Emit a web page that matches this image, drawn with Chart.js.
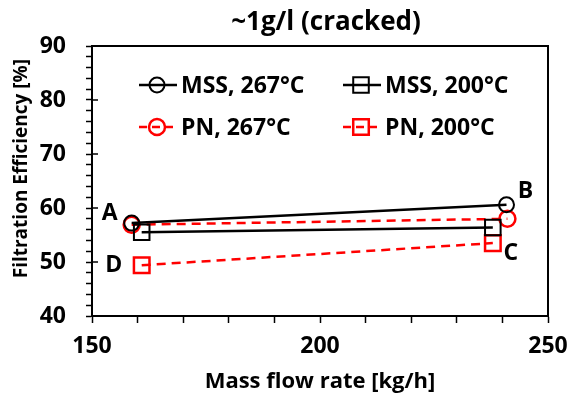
<!DOCTYPE html>
<html lang="en">
<head>
  <meta charset="UTF-8" />
  <title>Filtration efficiency vs mass flow</title>
  <script src="https://cdn.jsdelivr.net/npm/chart.js@4.4.1/dist/chart.umd.min.js"></script>
  <style>
    html, body { margin: 0; padding: 0; background: #fff; }
    #wrap { width: 568px; height: 403px; }
  </style>
</head>
<body>
  <div id="wrap"><canvas id="chart" width="568" height="403"></canvas></div>
  <script>
    // data
    const chartTitle = '~1g/l (cracked)';
    const seriesNames = ['MSS, 267°C', 'MSS, 200°C', 'PN, 267°C', 'PN, 200°C'];
    const mss267X = [158.7, 240.9];
    const mss267Y = [57.2, 60.6];
    const mss200X = [160.9, 237.9];
    const mss200Y = [55.5, 56.4];
    const pn267X = [158.7, 241.1];
    const pn267Y = [56.9, 58.0];
    const pn200X = [160.9, 237.9];
    const pn200Y = [49.4, 53.5];
    const xTickLabels = [150, 200, 250];
    const yTickLabels = [40, 50, 60, 70, 80, 90];
    // point letters: [letter, series index, point index]
    const pointLetters = [['A', 0, 0], ['B', 0, 1], ['C', 3, 1], ['D', 3, 0]];

    const FONT = '"Open Sans", sans-serif';
    const toPts = (xs, ys) => xs.map((x, i) => ({ x: x, y: ys[i] }));

    const styles = [
      { color: '#000000', shape: 'circle', r: 7.5, dash: [] },
      { color: '#000000', shape: 'rect', r: 11, dash: [] },
      { color: '#ff0000', shape: 'circle', r: 8, dash: [9, 6] },
      { color: '#ff0000', shape: 'rect', r: 11, dash: [9, 6] }
    ];
    const pts = [toPts(mss267X, mss267Y), toPts(mss200X, mss200Y), toPts(pn267X, pn267Y), toPts(pn200X, pn200Y)];

    const datasets = pts.map((d, i) => ({
      label: seriesNames[i],
      data: d,
      borderColor: styles[i].color,
      backgroundColor: 'rgba(0,0,0,0)',
      borderWidth: 2.5,
      borderDash: styles[i].dash,
      pointStyle: styles[i].shape,
      pointRadius: styles[i].r,
      pointHoverRadius: styles[i].r,
      pointBorderWidth: i < 2 ? 2 : 2.5,
      pointBorderColor: styles[i].color,
      pointBackgroundColor: 'rgba(0,0,0,0)',
      showLine: true,
      tension: 0
    }));

    function marker(ctx, shape, x, y, r) {
      ctx.beginPath();
      if (shape === 'circle') {
        ctx.arc(x, y, r, 0, Math.PI * 2);
      } else {
        const s = r * Math.SQRT1_2;
        ctx.rect(x - s, y - s, 2 * s, 2 * s);
      }
      ctx.stroke();
    }

    const framePlugin = {
      id: 'frame',
      beforeDatasetsDraw(chart) {
        const { ctx, chartArea: a } = chart;
        const ys = chart.scales.y;
        ctx.save();
        ctx.strokeStyle = '#000';
        ctx.lineWidth = 2;
        ctx.strokeRect(a.left, a.top, a.right - a.left, a.bottom - a.top);
        // major y ticks cross into the plot
        ctx.lineWidth = 1.5;
        yTickLabels.forEach(v => {
          const py = ys.getPixelForValue(v);
          ctx.beginPath();
          ctx.moveTo(a.left, py);
          ctx.lineTo(a.left + 6, py);
          ctx.stroke();
        });
        // title sits over the plot area, a little right of centre
        ctx.fillStyle = '#000';
        ctx.font = 'bold 26px ' + FONT;
        ctx.textAlign = 'center';
        ctx.textBaseline = 'middle';
        ctx.fillText(chartTitle, (a.left + a.right) / 2 + 6, 23);
        ctx.restore();
      }
    };

    const legendPlugin = {
      id: 'innerLegend',
      afterDatasetsDraw(chart) {
        const { ctx, chartArea: a } = chart;
        const cols = [a.left + 47, a.left + 251];
        const rows = [a.top + 39, a.top + 81];
        ctx.save();
        seriesNames.forEach((name, i) => {
          const x0 = cols[i % 2];
          const y0 = rows[Math.floor(i / 2)];
          const st = styles[i];
          ctx.strokeStyle = st.color;
          ctx.lineWidth = 2.5;
          ctx.setLineDash(st.dash.length ? [8, 5] : []);
          ctx.beginPath();
          ctx.moveTo(x0, y0);
          ctx.lineTo(x0 + 38, y0);
          ctx.stroke();
          ctx.setLineDash([]);
          ctx.lineWidth = i < 2 ? 2 : 2.5;
          marker(ctx, st.shape, x0 + 18, y0, st.r);
          ctx.fillStyle = '#000';
          ctx.font = 'bold 23px ' + FONT;
          ctx.textBaseline = 'middle';
          ctx.textAlign = 'left';
          ctx.fillText(name, x0 + 42, y0 + 1);
        });
        ctx.restore();
      }
    };

    const letterPlugin = {
      id: 'pointLetters',
      afterDatasetsDraw(chart) {
        const { ctx } = chart;
        const offs = { A: [-22, -10], B: [19, -13], C: [18, 10], D: [-28, 0] };
        ctx.save();
        ctx.fillStyle = '#000';
        ctx.font = 'bold 23px ' + FONT;
        ctx.textAlign = 'center';
        ctx.textBaseline = 'middle';
        pointLetters.forEach(([t, si, pi]) => {
          const el = chart.getDatasetMeta(si).data[pi];
          ctx.fillText(t, el.x + offs[t][0], el.y + offs[t][1]);
        });
        ctx.restore();
      }
    };

    new Chart(document.getElementById('chart'), {
      type: 'scatter',
      data: { datasets: datasets },
      options: {
        responsive: false,
        animation: false,
        events: [],
        layout: { padding: { left: 0, right: 20, top: 46, bottom: 0 } },
        plugins: {
          legend: { display: false },
          tooltip: { enabled: false },
          title: { display: false }
        },
        scales: {
          x: {
            type: 'linear',
            min: 150,
            max: 250,
            afterFit: s => { s.height = 87; s.paddingLeft = 0; s.paddingRight = 0; },
            border: { display: true, color: '#000', width: 2 },
            grid: { drawOnChartArea: false, drawTicks: true, tickLength: 7, tickColor: '#000', tickWidth: 1.5 },
            ticks: {
              stepSize: 10,
              autoSkip: false,
              maxRotation: 0,
              padding: 10,
              color: '#000',
              font: { family: FONT, size: 23, weight: 'bold' },
              callback: v => xTickLabels.includes(v) ? String(v) : ''
            },
            title: {
              display: true,
              text: 'Mass flow rate [kg/h]',
              color: '#000',
              font: { family: FONT, size: 22, weight: 'bold', lineHeight: 1.2 },
              padding: { top: 0, bottom: 8 }
            }
          },
          y: {
            type: 'linear',
            min: 40,
            max: 90,
            afterFit: s => { s.width = 92; s.paddingTop = 0; s.paddingBottom = 0; },
            border: { display: true, color: '#000', width: 2 },
            grid: { drawOnChartArea: false, drawTicks: true, tickLength: 6, tickColor: '#000', tickWidth: 1.5 },
            ticks: {
              stepSize: 2,
              autoSkip: false,
              padding: 20,
              color: '#000',
              font: { family: FONT, size: 23, weight: 'bold' },
              callback: v => yTickLabels.includes(v) ? String(v) : ''
            },
            title: {
              display: true,
              // leading spaces nudge the centred title upward, as in the original
              text: '     Filtration Efficiency [%]',
              color: '#000',
              font: { family: FONT, size: 19, weight: 'bold', lineHeight: 1.2 },
              padding: { top: 10, bottom: 0 }
            }
          }
        }
      },
      plugins: [framePlugin, legendPlugin, letterPlugin]
    });
  </script>
</body>
</html>
